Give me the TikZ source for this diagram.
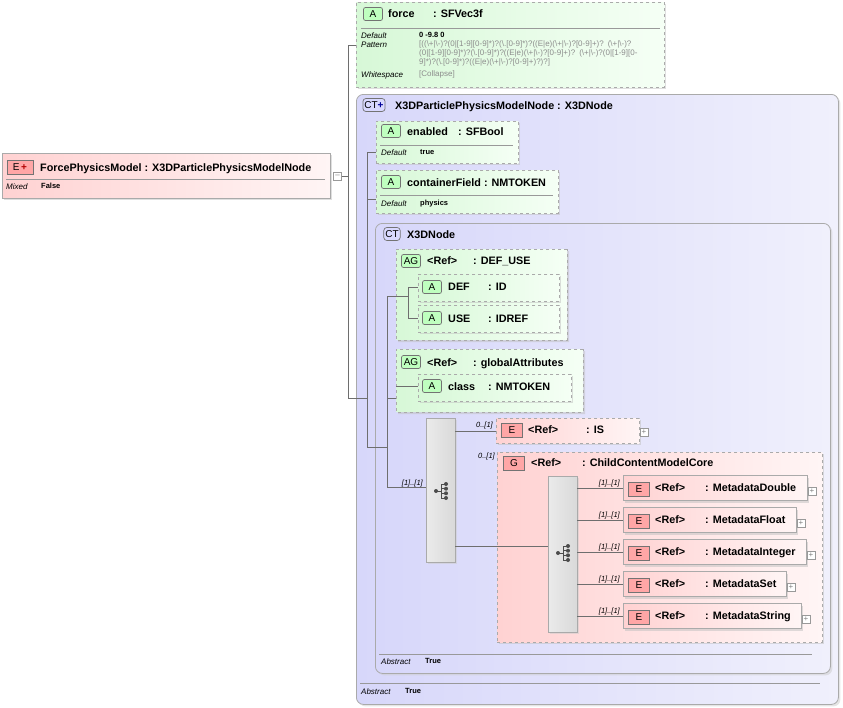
\documentclass[tikz,border=0pt]{standalone}
\usepackage{fontspec}
\setmainfont{Liberation Sans}
\usetikzlibrary{shadows,shapes.misc}
\definecolor{gfill}{RGB}{215,248,215}
\definecolor{gfill2}{RGB}{245,255,245}
\definecolor{rfill}{RGB}{255,210,210}
\definecolor{rfill2}{RGB}{255,245,245}
\definecolor{lav}{RGB}{215,215,250}
\definecolor{lav2}{RGB}{240,240,252}
\definecolor{bord}{RGB}{170,170,170}
\definecolor{conn}{RGB}{110,110,110}
\tikzset{
 x=1pt,y=-1pt,
 dbox/.style={draw=bord,dashed,line width=0.8pt,drop shadow={shadow xshift=2pt,shadow yshift=-2pt,fill=black!25}},
 sbox/.style={draw=bord,line width=0.8pt,drop shadow={shadow xshift=2pt,shadow yshift=-2pt,fill=black!25}},
 gbox/.style={dbox,left color=gfill,right color=gfill2},
 rbox/.style={sbox,left color=rfill,right color=rfill2},
 rdbox/.style={dbox,left color=rfill,right color=rfill2},
 ctbox/.style={draw=bord,line width=0.8pt,rounded corners=7pt,left color=lav,right color=lav2,drop shadow={shadow xshift=2pt,shadow yshift=-2pt,fill=black!20}},
 seqbox/.style={draw=bord,line width=0.8pt,left color=black!8,right color=black!15,drop shadow={shadow xshift=2pt,shadow yshift=-2pt,fill=black!20}},
 t/.style={anchor=base west,inner sep=0pt,font=\bfseries\fontsize{10.8}{12}\selectfont},
 s/.style={anchor=base west,inner sep=0pt,font=\bfseries\fontsize{7.5}{9}\selectfont},
 si/.style={anchor=base west,inner sep=0pt,font=\itshape\fontsize{8}{9}\selectfont},
 gray/.style={anchor=base west,inner sep=0pt,font=\fontsize{8}{8.8}\selectfont,text=black!45},
 card/.style={anchor=base east,inner sep=0pt,font=\itshape\fontsize{7.5}{9}\selectfont},
 badgeA/.style={draw=black!55,rounded corners=2pt,fill=green!25!white,minimum width=19pt,minimum height=13pt,inner sep=0pt,font=\fontsize{10}{10}\selectfont,line width=0.7pt},
 badgeE/.style={draw=black!55,fill=red!35!white,minimum width=21pt,minimum height=14pt,inner sep=0pt,font=\fontsize{10}{10}\selectfont,line width=0.7pt},
 badgeC/.style={draw=black!55,rounded corners=3pt,fill=blue!15!white,minimum height=13pt,inner sep=1.5pt,font=\fontsize{10}{10}\selectfont,line width=0.7pt},
 ln/.style={draw=conn,line width=0.6pt},
 plus/.style={draw=black!40,fill=white,minimum size=8pt,inner sep=0pt,font=\fontsize{8}{8}\selectfont,text=black!50},
}
\begin{document}
\begin{tikzpicture}
\useasboundingbox (0,0) rectangle (843,707);
\draw[ln] (342,176) -- (348,176);
\draw[ln] (348,45) -- (348,398) -- (367,398);
\draw[ln] (348,45) -- (356,45);

% root element
\node[rbox,minimum width=328pt,minimum height=45pt,anchor=north west,inner sep=0pt] (root) at (2,153) {};
\node[badgeE,minimum width=26pt] (rb) at (20,167) {E\,\textcolor{red!70!black}{\textbf{+}}};
\node[t] (rt) at (40,171) {ForcePhysicsModel : X3DParticlePhysicsModelNode};
\draw[black!40] (6,179) -- (325,179);
\node[si] (rm) at (6,189) {Mixed};
\node[s] (rf) at (41,188) {False};
\node[plus] (rminus) at (337.5,176.5) {--};

% force
\node[gbox,minimum width=308pt,minimum height=85pt,anchor=north west,inner sep=0pt] (force) at (356,2) {};
\node[badgeA] (fa) at (373,14) {A};
\node[t] (ft) at (388,17) {force};
\node[t] (ft2) at (433,17) {: SFVec3f};
\draw[black!40] (361,28) -- (660,28);
\node[si] (fd) at (361,38) {Default};
\node[s] (fdv) at (419,37) {0 -9.8 0};
\node[si] (fp) at (361,47) {Pattern};
\node[gray,anchor=north west,text width=245pt] (fpv) at (419,41) {[((\textbackslash+|\textbackslash-)?(0|[1-9][0-9]*)?(\textbackslash.[0-9]*)?((E|e)(\textbackslash+|\textbackslash-)?[0-9]+)? (\textbackslash+|\textbackslash-)?\\(0|[1-9][0-9]*)?(\textbackslash.[0-9]*)?((E|e)(\textbackslash+|\textbackslash-)?[0-9]+)? (\textbackslash+|\textbackslash-)?(0|[1-9][0-\\9]*)?(\textbackslash.[0-9]*)?((E|e)(\textbackslash+|\textbackslash-)?[0-9]+)?)?]};
\node[si] (fw) at (361,77) {Whitespace};
\node[gray] (fwv) at (419,76) {[Collapse]};

% outer CT
\node[ctbox,minimum width=482pt,minimum height=610pt,anchor=north west,inner sep=0pt] (ct1) at (356,94) {};
\node[badgeC] (ct1b) at (374,105) {CT\textcolor{blue!60!black}{\textbf{+}}};
\node[t] (ct1t) at (395,109) {X3DParticlePhysicsModelNode : X3DNode};
\draw[black!40] (360,683) -- (820,683);
\node[si] (ct1a) at (361,694) {Abstract};
\node[s] (ct1av) at (405,693) {True};
\draw[ln] (367,152) -- (367,447) -- (387,447);
\draw[ln] (367,398) -- (356,398);
\draw[ln] (367,152) -- (376,152);
\draw[ln] (367,199) -- (376,199);

% enabled
\node[gbox,minimum width=142pt,minimum height=42pt,anchor=north west,inner sep=0pt] (en) at (376,121) {};
\node[badgeA] (ena) at (391,131) {A};
\node[t] (ent) at (407,135) {enabled};
\node[t] (ent2) at (458,135) {: SFBool};
\draw[black!40] (380,145) -- (513,145);
\node[si] (end) at (381,155) {Default};
\node[s] (endv) at (420,154) {true};

% containerField
\node[gbox,minimum width=182pt,minimum height=43pt,anchor=north west,inner sep=0pt] (cf) at (376,170) {};
\node[badgeA] (cfa) at (391,182) {A};
\node[t] (cft) at (407,186) {containerField : NMTOKEN};
\draw[black!40] (380,195) -- (553,195);
\node[si] (cfd) at (381,206) {Default};
\node[s] (cfdv) at (420,205) {physics};

% X3DNode CT
\node[ctbox,minimum width=455pt,minimum height=450pt,anchor=north west,inner sep=0pt] (ct2) at (375,223) {};
\node[badgeC] (ct2b) at (392,234) {CT};
\node[t] (ct2t) at (407,238) {X3DNode};
\draw[black!40] (379,654) -- (812,654);
\node[si] (ct2a) at (381,664) {Abstract};
\node[s] (ct2av) at (425,663) {True};
\draw[ln] (387,296) -- (387,487) -- (426,487);
\draw[ln] (387,296) -- (396,296);
\draw[ln] (387,398) -- (396,398);
\draw[ln] (375,447) -- (387,447);
\node[card] (c0) at (423,485) {[1]..[1]};

% AG DEF_USE
\node[gbox,minimum width=171pt,minimum height=91pt,anchor=north west,inner sep=0pt,chamfered rectangle,chamfered rectangle xsep=6pt,chamfered rectangle ysep=6pt,chamfered rectangle corners={north west,south west}] (ag1) at (396,249) {};
\node[badgeA] (ag1b) at (411,261) {AG};
\node[t] (ag1t) at (427,264) {<Ref>};
\node[t] (ag1t2) at (473,264) {: DEF\_USE};
\draw[ln] (396,296) -- (408,296);
\draw[ln] (408,287) -- (408,318);
\draw[ln] (408,287) -- (418,287);
\draw[ln] (408,318) -- (418,318);
\node[gbox,minimum width=141pt,minimum height=27pt,anchor=north west,inner sep=0pt] (def) at (418,274) {};
\node[badgeA] (defa) at (432,287) {A};
\node[t] (deft) at (448,290) {DEF};
\node[t] (deft2) at (488,290) {: ID};
\node[gbox,minimum width=141pt,minimum height=27pt,anchor=north west,inner sep=0pt] (use) at (418,305) {};
\node[badgeA] (usea) at (432,318) {A};
\node[t] (uset) at (448,322) {USE};
\node[t] (uset2) at (488,322) {: IDREF};

% AG global
\node[gbox,minimum width=187pt,minimum height=63pt,anchor=north west,inner sep=0pt,chamfered rectangle,chamfered rectangle xsep=6pt,chamfered rectangle ysep=6pt,chamfered rectangle corners={north west,south west}] (ag2) at (396,349) {};
\node[badgeA] (ag2b) at (411,362) {AG};
\node[t] (ag2t) at (427,366) {<Ref>};
\node[t] (ag2t2) at (473,366) {: globalAttributes};
\draw[ln] (396,386) -- (418,386);
\node[gbox,minimum width=153pt,minimum height=27pt,anchor=north west,inner sep=0pt] (cls) at (418,374) {};
\node[badgeA] (clsa) at (432,386) {A};
\node[t] (clst) at (448,390) {class};
\node[t] (clst2) at (488,390) {: NMTOKEN};

% sequence 1
\node[seqbox,minimum width=29pt,minimum height=144pt,anchor=north west,inner sep=0pt] (seq1) at (426,418) {};
\draw[ln] (455,431) -- (496,431);
\draw[ln] (455,546) -- (548,546);
\node[card] (c1) at (493,427) {0..[1]};
\node[card] (c2) at (495,458) {0..[1]};
\node[card] (c3) at (545,550) {[1]..[1]};

% IS
\node[rdbox,minimum width=143pt,minimum height=25pt,anchor=north west,inner sep=0pt] (is) at (496,418) {};
\node[badgeE] (isb) at (512,430) {E};
\node[t] (ist) at (528,433) {<Ref>};
\node[t] (ist2) at (586,433) {: IS};
\node[plus] (isp) at (644,432) {+};

% G
\node[rdbox,minimum width=325pt,minimum height=190pt,anchor=north west,inner sep=0pt] (g) at (497,452) {};
\node[badgeE] (gb) at (514,463) {G};
\node[t] (gt) at (531,466) {<Ref>};
\node[t] (gt2) at (582,466) {: ChildContentModelCore};
\draw[ln] (497,546) -- (548,546);

% sequence 2
\node[seqbox,minimum width=29pt,minimum height=156pt,anchor=north west,inner sep=0pt] (seq2) at (548,476) {};
\foreach \y/\w/\n [count=\i] in {488/184/MetadataDouble,520/173/MetadataFloat,552/183/MetadataInteger,584/163/MetadataSet,616/178/MetadataString}{
 \draw[ln] (577,\y) -- (623,\y);
 \node[card] (k\i) at (620,\y-3) {[1]..[1]};
 \node[rbox,minimum width=\w pt,minimum height=25pt,anchor=west,inner sep=0pt] (m\i) at (623,\y) {};
 \node[badgeE] (mb\i) at (639,\y+1) {E};
 \node[t] (mt\i) at (655,\y+3) {<Ref>};
 \node[t] (mn\i) at (705,\y+3) {: \n};
 \node[plus] (mp\i) at (623+\w+5,\y+3) {+};
}
% icons
\foreach \cx/\cy in {441/491,563/553}{
 \fill[black!70] (\cx-5,\cy) circle (2pt);
 \draw[black!70,line width=0.8pt] (\cx-5,\cy) -- (\cx,\cy) (\cx,\cy-7) -- (\cx,\cy+7) (\cx,\cy-7)--(\cx+5,\cy-7) (\cx,\cy-2.3)--(\cx+5,\cy-2.3) (\cx,\cy+2.3)--(\cx+5,\cy+2.3) (\cx,\cy+7)--(\cx+5,\cy+7);
 \foreach \d in {-7,-2.3,2.3,7} \fill[black!70] (\cx+5,\cy+\d) circle (2pt);
}
\end{tikzpicture}
\end{document}
